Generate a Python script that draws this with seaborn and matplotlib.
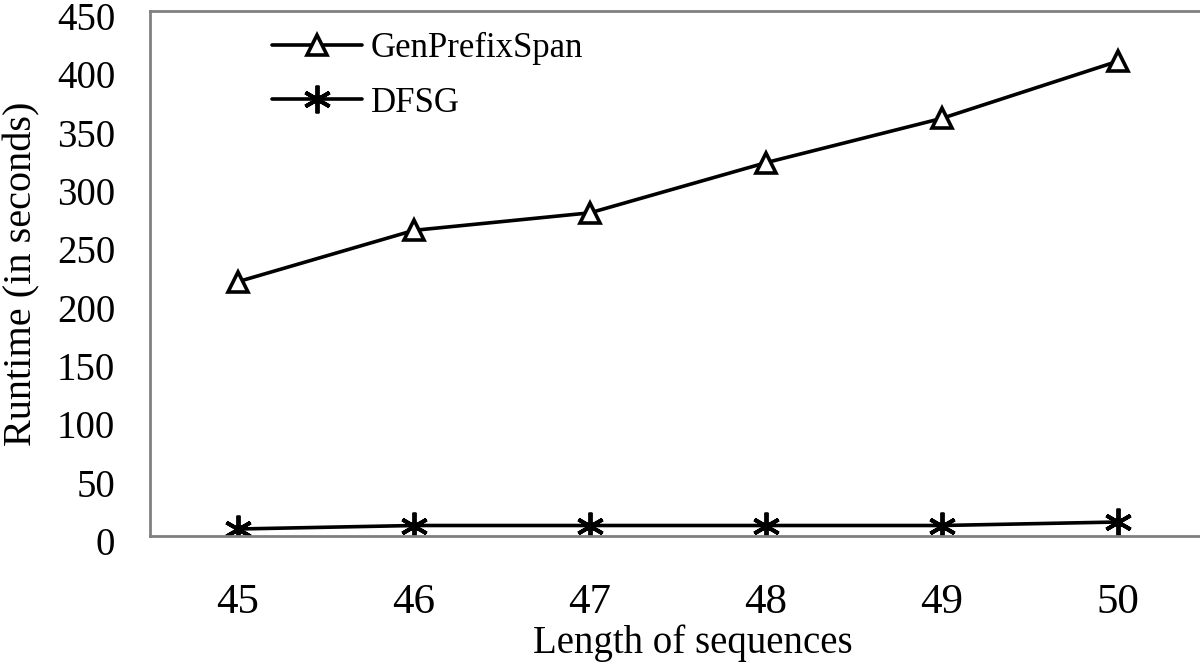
import numpy as np
import pandas as pd
import matplotlib
matplotlib.use("Agg")
import matplotlib.pyplot as plt
import matplotlib.transforms as mtransforms
import seaborn as sns

# values
lengths = [45, 46, 47, 48, 49, 50]
genprefixspan = [218, 262, 277, 320, 358, 407]
dfsg = [6, 9, 9, 9, 9, 12]

sns.set_style("white")
plt.rcParams["font.family"] = ["Liberation Serif", "DejaVu Serif"]
plt.rcParams["text.color"] = "black"
plt.rcParams["axes.labelcolor"] = "black"

df = pd.DataFrame({
    "length": lengths * 2,
    "runtime": genprefixspan + dfsg,
    "algorithm": ["GenPrefixSpan"] * len(lengths) + ["DFSG"] * len(lengths),
})

fig = plt.figure(figsize=(12, 6.62), dpi=100)
W, H = 1200, 662
ax = fig.add_axes([150 / W, (H - 536) / H, (1206 - 150) / W, (536 - 11) / H])

sns.lineplot(data=df[df.algorithm == "GenPrefixSpan"], x="length", y="runtime",
             ax=ax, color="black", linewidth=2.6, marker="^", markersize=15,
             markerfacecolor="white", markeredgecolor="black", markeredgewidth=2.6,
             label="GenPrefixSpan")
sns.lineplot(data=df[df.algorithm == "DFSG"], x="length", y="runtime",
             ax=ax, color="black", linewidth=2.6, marker=(6, 2, 0), markersize=20,
             markeredgecolor="black", markeredgewidth=2.8,
             label="DFSG")

ax.set_xlim(44.5, 50.5)
ax.set_ylim(0, 450)
ax.set_yticks(np.arange(0, 451, 50))
ax.set_xticks(lengths)
ax.set_xticks([l + 0.5 for l in lengths[:-1]], minor=True)

for s in ax.spines.values():
    s.set_color("#808080")
    s.set_linewidth(2)

ax.tick_params(axis="y", direction="in", length=10, width=1, color="#a0a0a0",
               labelcolor="black", pad=25, labelsize=28)
ax.tick_params(axis="x", which="major", length=0, pad=34, labelsize=31,
               labelcolor="black")
ax.tick_params(axis="x", which="minor", direction="in", length=9, width=1,
               color="#a0a0a0")

# y tick labels sit a little below their ticks in the reference
shift = mtransforms.ScaledTranslation(0, -5 / 100, fig.dpi_scale_trans)
for lab in ax.get_yticklabels():
    lab.set_transform(lab.get_transform() + shift)

ax.set_xlabel("Length of sequences", fontsize=28)
ax.set_ylabel("Runtime (in seconds)", fontsize=29)
ax.xaxis.set_label_coords(0.514, (536 - 624) / 525)
ax.yaxis.set_label_coords((42 - 152) / 1056, 0.5)

ax.legend(loc="upper left", bbox_to_anchor=(272 / W, 1 - 32 / H),
          bbox_transform=fig.transFigure, frameon=False, fontsize=25,
          handlelength=2.6, handletextpad=0.25, labelspacing=0.62,
          borderpad=0, borderaxespad=0)

fig.savefig("out.png", dpi=100)
